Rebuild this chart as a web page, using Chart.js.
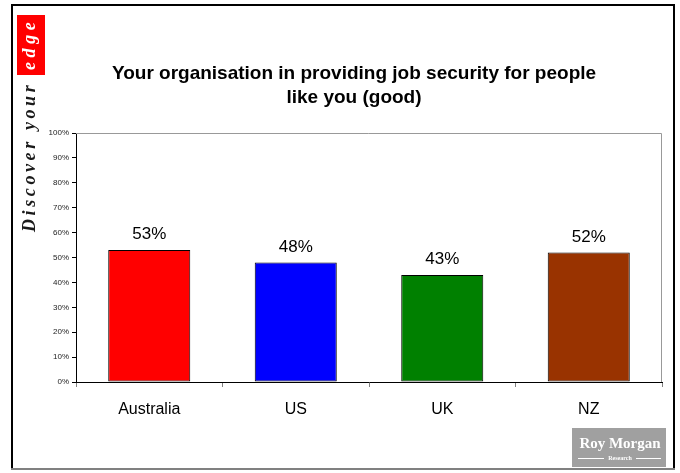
<!DOCTYPE html>
<html>
<head>
<meta charset="utf-8">
<script src="https://cdn.jsdelivr.net/npm/chart.js@4"></script>
<style>
  body { margin: 0; background: #fff; }
  canvas { display: block; }
</style>
</head>
<body>
<canvas id="myChart" width="680" height="473"></canvas>
<script>
const categories = ["Australia", "US", "UK", "NZ"]
const goodValues = [53, 48, 43, 52]
const barColors = ["#ff0000", "#0000ff", "#008000", "#993300"]
const yTicks = [0, 10, 20, 30, 40, 50, 60, 70, 80, 90, 100]
const titleLines = ["Your organisation in providing job security for people", "like you (good)"]

// slide frame, side slogan, title and logo
const slidePlugin = {
    id: 'slide',
    beforeDraw: (chart) => {
        const ctx = chart.ctx
        ctx.save()
        ctx.fillStyle = '#fff'
        ctx.fillRect(0, 0, chart.width, chart.height)

        // frame
        ctx.strokeStyle = '#000'
        ctx.lineWidth = 2
        ctx.beginPath()
        ctx.moveTo(12, 469)
        ctx.lineTo(12, 5)
        ctx.lineTo(674, 5)
        ctx.lineTo(674, 469)
        ctx.stroke()
        ctx.strokeStyle = '#808080'
        ctx.beginPath()
        ctx.moveTo(11, 469)
        ctx.lineTo(675, 469)
        ctx.stroke()

        // "Discover your edge" running up the left edge
        ctx.fillStyle = '#ff0000'
        ctx.fillRect(17, 15, 28, 60)
        ctx.translate(35, 232)
        ctx.rotate(-Math.PI / 2)
        ctx.font = 'italic bold 18px "Liberation Serif", "DejaVu Serif", serif'
        ctx.textBaseline = 'alphabetic'
        ctx.textAlign = 'left'
        let x = 0
        const drawSpaced = (text, color, gap) => {
            ctx.fillStyle = color
            for (const ch of text) {
                ctx.fillText(ch, x, 0)
                x += ctx.measureText(ch).width + gap
            }
        }
        drawSpaced("Discover your", '#1a1a1a', 3.6)
        x = 162
        drawSpaced("edge", '#fff', 4.6)
        ctx.restore()

        // title
        ctx.save()
        ctx.fillStyle = '#000'
        ctx.font = 'bold 19px "Liberation Sans", Arial, sans-serif'
        ctx.textAlign = 'center'
        ctx.textBaseline = 'middle'
        titleLines.forEach((line, i) => ctx.fillText(line, 354, 74 + i * 24))

        // logo
        ctx.fillStyle = '#a0a0a0'
        ctx.fillRect(572, 428, 94, 39)
        ctx.fillStyle = '#fff'
        ctx.font = 'bold 15px "Liberation Serif", serif'
        ctx.fillText("Roy Morgan", 620, 444)
        ctx.font = 'bold 6px "Liberation Serif", serif'
        ctx.fillText("Research", 620, 458)
        ctx.strokeStyle = '#fff'
        ctx.lineWidth = 1
        ctx.beginPath()
        ctx.moveTo(578, 458.5)
        ctx.lineTo(604, 458.5)
        ctx.moveTo(636, 458.5)
        ctx.lineTo(661, 458.5)
        ctx.stroke()
        ctx.restore()
    },
    afterDatasetsDraw: (chart) => {
        const ctx = chart.ctx
        const area = chart.chartArea
        ctx.save()
        // grey plot border on top and right
        ctx.strokeStyle = '#999'
        ctx.lineWidth = 1
        ctx.beginPath()
        ctx.moveTo(area.left, area.top + 0.5)
        ctx.lineTo(area.right - 0.5, area.top + 0.5)
        ctx.lineTo(area.right - 0.5, area.bottom)
        ctx.stroke()

        // value labels above the bars
        const meta = chart.getDatasetMeta(0)
        ctx.fillStyle = '#000'
        ctx.font = '17px "Liberation Sans", Arial, sans-serif'
        ctx.textAlign = 'center'
        ctx.textBaseline = 'bottom'
        meta.data.forEach((bar, i) => {
            ctx.fillText(goodValues[i] + "%", bar.x, bar.y - 7)
        })
        ctx.restore()
    }
}

const ctx = document.querySelector("#myChart").getContext("2d")

new Chart(ctx, {
    type: 'bar',
    data: {
        labels: categories,
        datasets: [
            {
                data: goodValues,
                backgroundColor: barColors,
                borderColor: '#000',
                borderWidth: 1,
                borderSkipped: false,
                categoryPercentage: 1,
                barPercentage: 0.56
            }
        ]
    },
    options: {
        responsive: false,
        animation: false,
        layout: {
            padding: { top: 133, right: 18, left: 0, bottom: 0 }
        },
        scales: {
            x: {
                offset: true,
                grid: {
                    offset: true,
                    drawOnChartArea: false,
                    drawTicks: true,
                    tickLength: 5,
                    color: '#808080'
                },
                border: { color: '#000', width: 1 },
                ticks: {
                    color: '#000',
                    padding: 13,
                    font: { family: '"Liberation Sans", Arial, sans-serif', size: 16 }
                },
                afterFit: (scale) => { scale.height = 91 }
            },
            y: {
                min: 0,
                max: 100,
                afterBuildTicks: (scale) => {
                    scale.ticks = yTicks.map(v => ({ value: v }))
                },
                grid: {
                    drawOnChartArea: false,
                    drawTicks: true,
                    tickLength: 4,
                    color: '#000'
                },
                border: { color: '#000', width: 1 },
                ticks: {
                    color: '#222',
                    padding: 3,
                    font: { family: '"Liberation Sans", Arial, sans-serif', size: 8 },
                    callback: (value) => value + "%"
                },
                afterFit: (scale) => { scale.width = 76 }
            }
        },
        plugins: {
            legend: { display: false },
            tooltip: { enabled: false }
        }
    },
    plugins: [slidePlugin]
})
</script>
</body>
</html>
